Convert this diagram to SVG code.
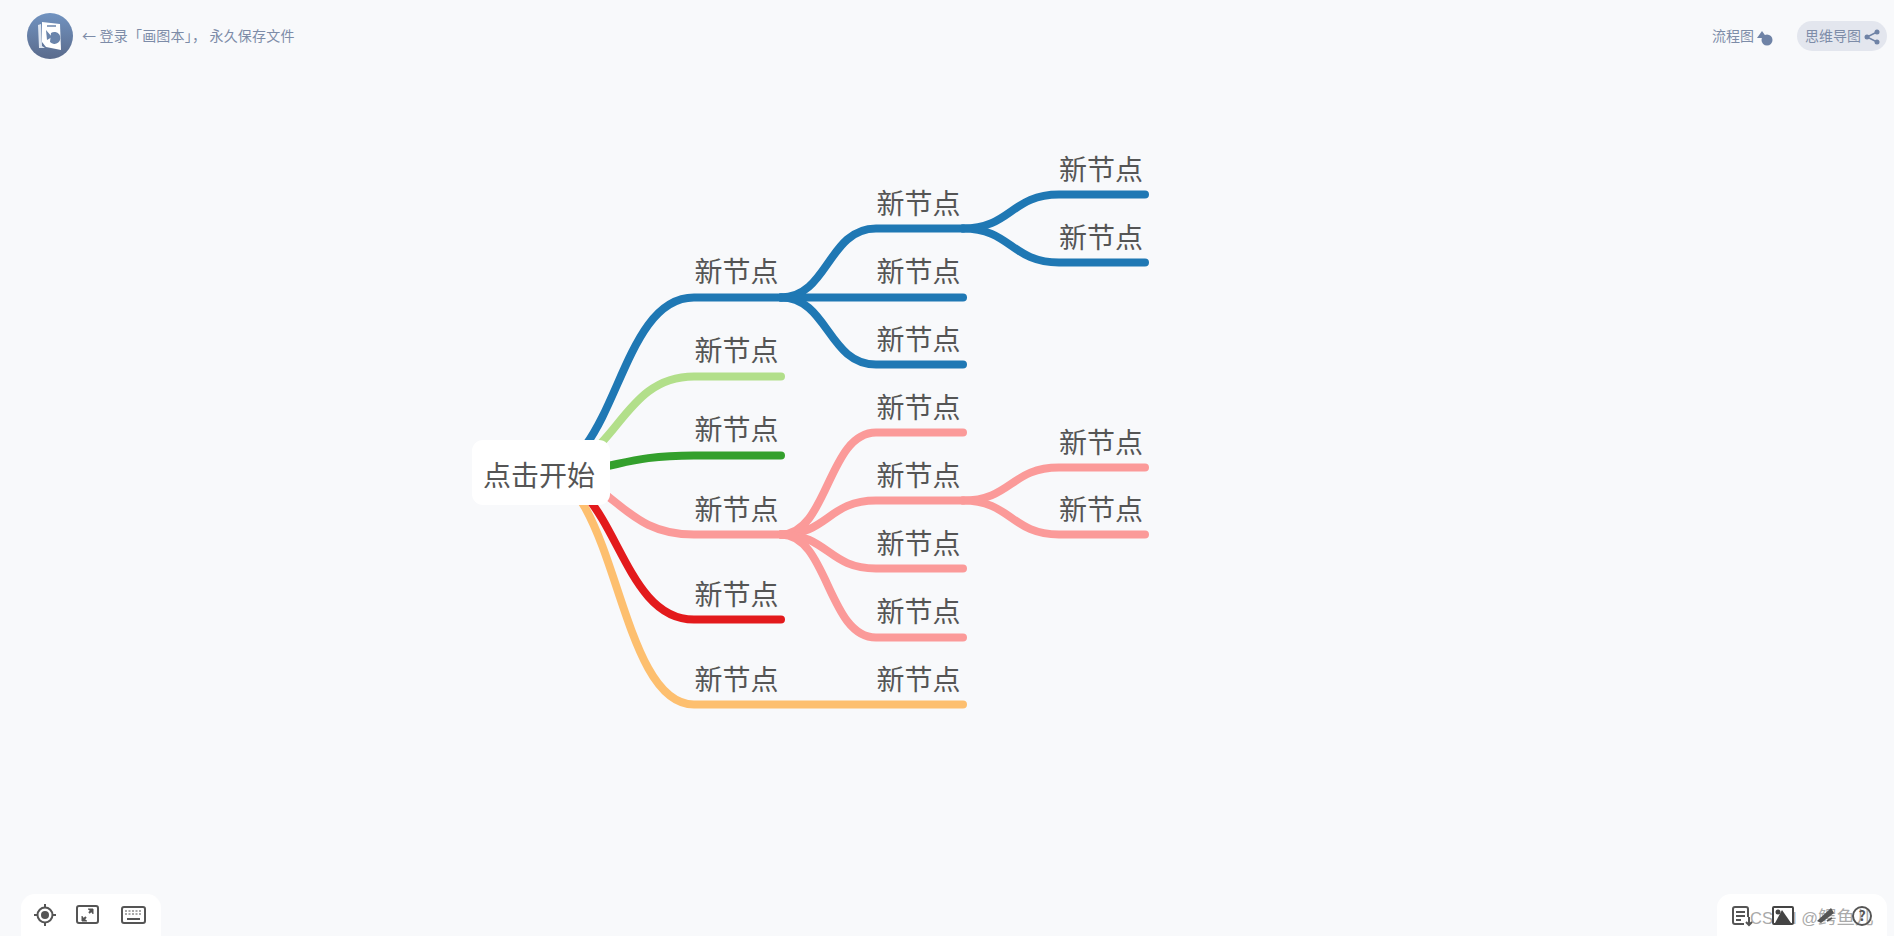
<svg xmlns="http://www.w3.org/2000/svg" width="1894" height="936" viewBox="0 0 1894 936">
<defs>
<linearGradient id="lg" x1="0" y1="0" x2="0" y2="1"><stop offset="0" stop-color="#7193c0"/><stop offset="1" stop-color="#5a6b8c"/></linearGradient>
</defs>
<style>
text{font-family:"Noto Sans CJK SC","Liberation Sans",sans-serif}
.n{font-size:28px;fill:#555;text-anchor:start}
.l{fill:none;stroke-width:8;stroke-linecap:round}
.t{font-size:14px;fill:#7d8ca8}
.i{fill:none;stroke:#555;stroke-width:2}
.b{stroke:#1f78b4}.g{stroke:#b2df8a}.d{stroke:#33a02c}.p{stroke:#fb9a99}.r{stroke:#e31a1c}.o{stroke:#fdbf6f}
</style>
<rect width="1894" height="936" fill="#f8f9fb"/>
<g id="connectors" transform="translate(0 .5)">
<path class="l b" d="M540 472C617 472 617 297 694 297H781"/>
<path class="l g" d="M540 472C617 472 617 376 694 376H781"/>
<path class="l d" d="M540 472C617 472 617 455 694 455H781"/>
<path class="l p" d="M540 472C617 472 617 534 694 534H781"/>
<path class="l o" d="M540 472C617 472 617 704 694 704H963"/>
<path class="l r" d="M540 472C617 472 617 619 694 619H781"/>
<path class="l b" d="M781 297C828 297 828 228 876 228H963"/>
<path class="l b" d="M781 297H963"/>
<path class="l b" d="M781 297C828 297 828 364 876 364H963"/>
<path class="l b" d="M963 228C1011 228 1011 194 1059 194H1145"/>
<path class="l b" d="M963 228C1011 228 1011 262 1059 262H1145"/>
<path class="l p" d="M781 534C828 534 828 432 876 432H963"/>
<path class="l p" d="M781 534C828 534 828 500 876 500H963"/>
<path class="l p" d="M781 534C828 534 828 568 876 568H963"/>
<path class="l p" d="M781 534C828 534 828 637 876 637H963"/>
<path class="l p" d="M963 500C1011 500 1011 467 1059 467H1145"/>
<path class="l p" d="M963 500C1011 500 1011 534 1059 534H1145"/>
</g>
<g id="root"><rect x="472" y="440" width="138" height="65" rx="11" fill="#fff"/><text x="483" y="486" class="n">点击开始</text></g>
<g id="n1"><text x="694.5" y="282" class="n">新节点</text></g>
<g id="n2"><text x="694.5" y="361" class="n">新节点</text></g>
<g id="n3"><text x="694.5" y="440" class="n">新节点</text></g>
<g id="n4"><text x="694.5" y="520" class="n">新节点</text></g>
<g id="n5"><text x="694.5" y="605" class="n">新节点</text></g>
<g id="n6"><text x="694.5" y="690" class="n">新节点</text></g>
<g id="n7"><text x="876.5" y="214" class="n">新节点</text></g>
<g id="n8"><text x="876.5" y="282" class="n">新节点</text></g>
<g id="n9"><text x="876.5" y="350" class="n">新节点</text></g>
<g id="n10"><text x="1059" y="180" class="n">新节点</text></g>
<g id="n11"><text x="1059" y="248" class="n">新节点</text></g>
<g id="n12"><text x="876.5" y="418" class="n">新节点</text></g>
<g id="n13"><text x="876.5" y="486" class="n">新节点</text></g>
<g id="n14"><text x="876.5" y="554" class="n">新节点</text></g>
<g id="n15"><text x="876.5" y="622" class="n">新节点</text></g>
<g id="n16"><text x="876.5" y="690" class="n">新节点</text></g>
<g id="n17"><text x="1059" y="453" class="n">新节点</text></g>
<g id="n18"><text x="1059" y="520" class="n">新节点</text></g>
<g id="toolbar-top">
<circle cx="50" cy="36" r="23" fill="url(#lg)"/>
<path d="M38 25l3-1 1 22 3 2-6 0z" fill="#dfe6f0"/>
<path d="M42 22l18 2 1 26-15-3-4-5z" fill="#fff"/>
<path d="M47 26h9" stroke="#6a84ab" stroke-width="1.5"/>
<path d="M46 30l1 10 5-3z" fill="#6a84ab"/>
<path d="M51 33a6 6 0 1 1-1 9z" fill="#6a84ab"/>
<text x="82" y="41" class="t" style="letter-spacing:.2px">← 登录「画图本」， 永久保存文件</text>
<text x="1712" y="41" class="t">流程图</text>
<path d="M1757 38l5-7 5 7z" fill="#6f83a6"/><circle cx="1767" cy="40" r="5.5" fill="#6f83a6"/>
<rect x="1797" y="21" width="90" height="30" rx="15" fill="#e3e6ee"/>
<text x="1805" y="41" class="t">思维导图</text>
<g fill="#6f83a6"><circle cx="1867" cy="37" r="2.5"/><circle cx="1877" cy="32" r="2.5"/><circle cx="1877" cy="42" r="2.5"/></g>
<path d="M1877 32l-10 5 10 5" fill="none" stroke="#6f83a6" stroke-width="1.5"/>
</g>
<g id="toolbar-left">
<path d="M21 936v-28a14 14 0 0 1 14-14h112a14 14 0 0 1 14 14v28z" fill="#fff"/>
<circle cx="45" cy="915" r="7.5" class="i"/><circle cx="45" cy="915" r="4" fill="#555"/>
<path d="M45 904v4M45 922v4M34 915h4M52 915h4" class="i"/>
<rect x="77" y="906" width="21" height="17" rx="2" class="i"/>
<path d="M83 920l3-3M92 910l-3 3" class="i" stroke-width="1.5"/>
<path d="M82 916v5h5M93 914v-5h-5" fill="#555" stroke="#555"/>
<rect x="122" y="907" width="23" height="16" rx="2" class="i"/>
<path d="M125 911h17M125 914h17" stroke="#555" stroke-dasharray="2 1.5"/><path d="M127 919h13" class="i"/>
</g>
<g id="toolbar-right">
<path d="M1717 936v-28a14 14 0 0 1 14-14h142a14 14 0 0 1 14 14v28z" fill="#fff"/>
<text x="1750" y="924" fill="#aaa" style="font-family:'Liberation Sans','Noto Sans CJK SC',sans-serif;font-size:16.5px">CSDN @<tspan style="font-size:18.5px">鳄鱼儿</tspan></text>
<path d="M1748 917v-8a2 2 0 0 0-2-2h-11a2 2 0 0 0-2 2v13a2 2 0 0 0 2 2h9" class="i"/>
<path d="M1736 912h9M1736 916h9M1736 920h5M1749 917v7m-3-2 3 3 3-3" class="i" stroke-width="1.5"/>
<rect x="1773" y="907" width="20" height="17" rx="1" fill="#fff" stroke="#444" stroke-width="2"/>
<path d="M1775 923l7-13 9 13z" fill="#444"/>
<circle cx="1778" cy="912" r="2.5" fill="#444"/>
<path d="M1817 921l14-13 3 5-13 10z" fill="#555"/>
<path d="M1827 921l5-3" class="i" stroke-width="1.5"/>
<circle cx="1862" cy="916" r="9" class="i"/>
<text x="1862" y="921" text-anchor="middle" style="font-size:14px;font-weight:bold" fill="#555">?</text>
</g>
</svg>
